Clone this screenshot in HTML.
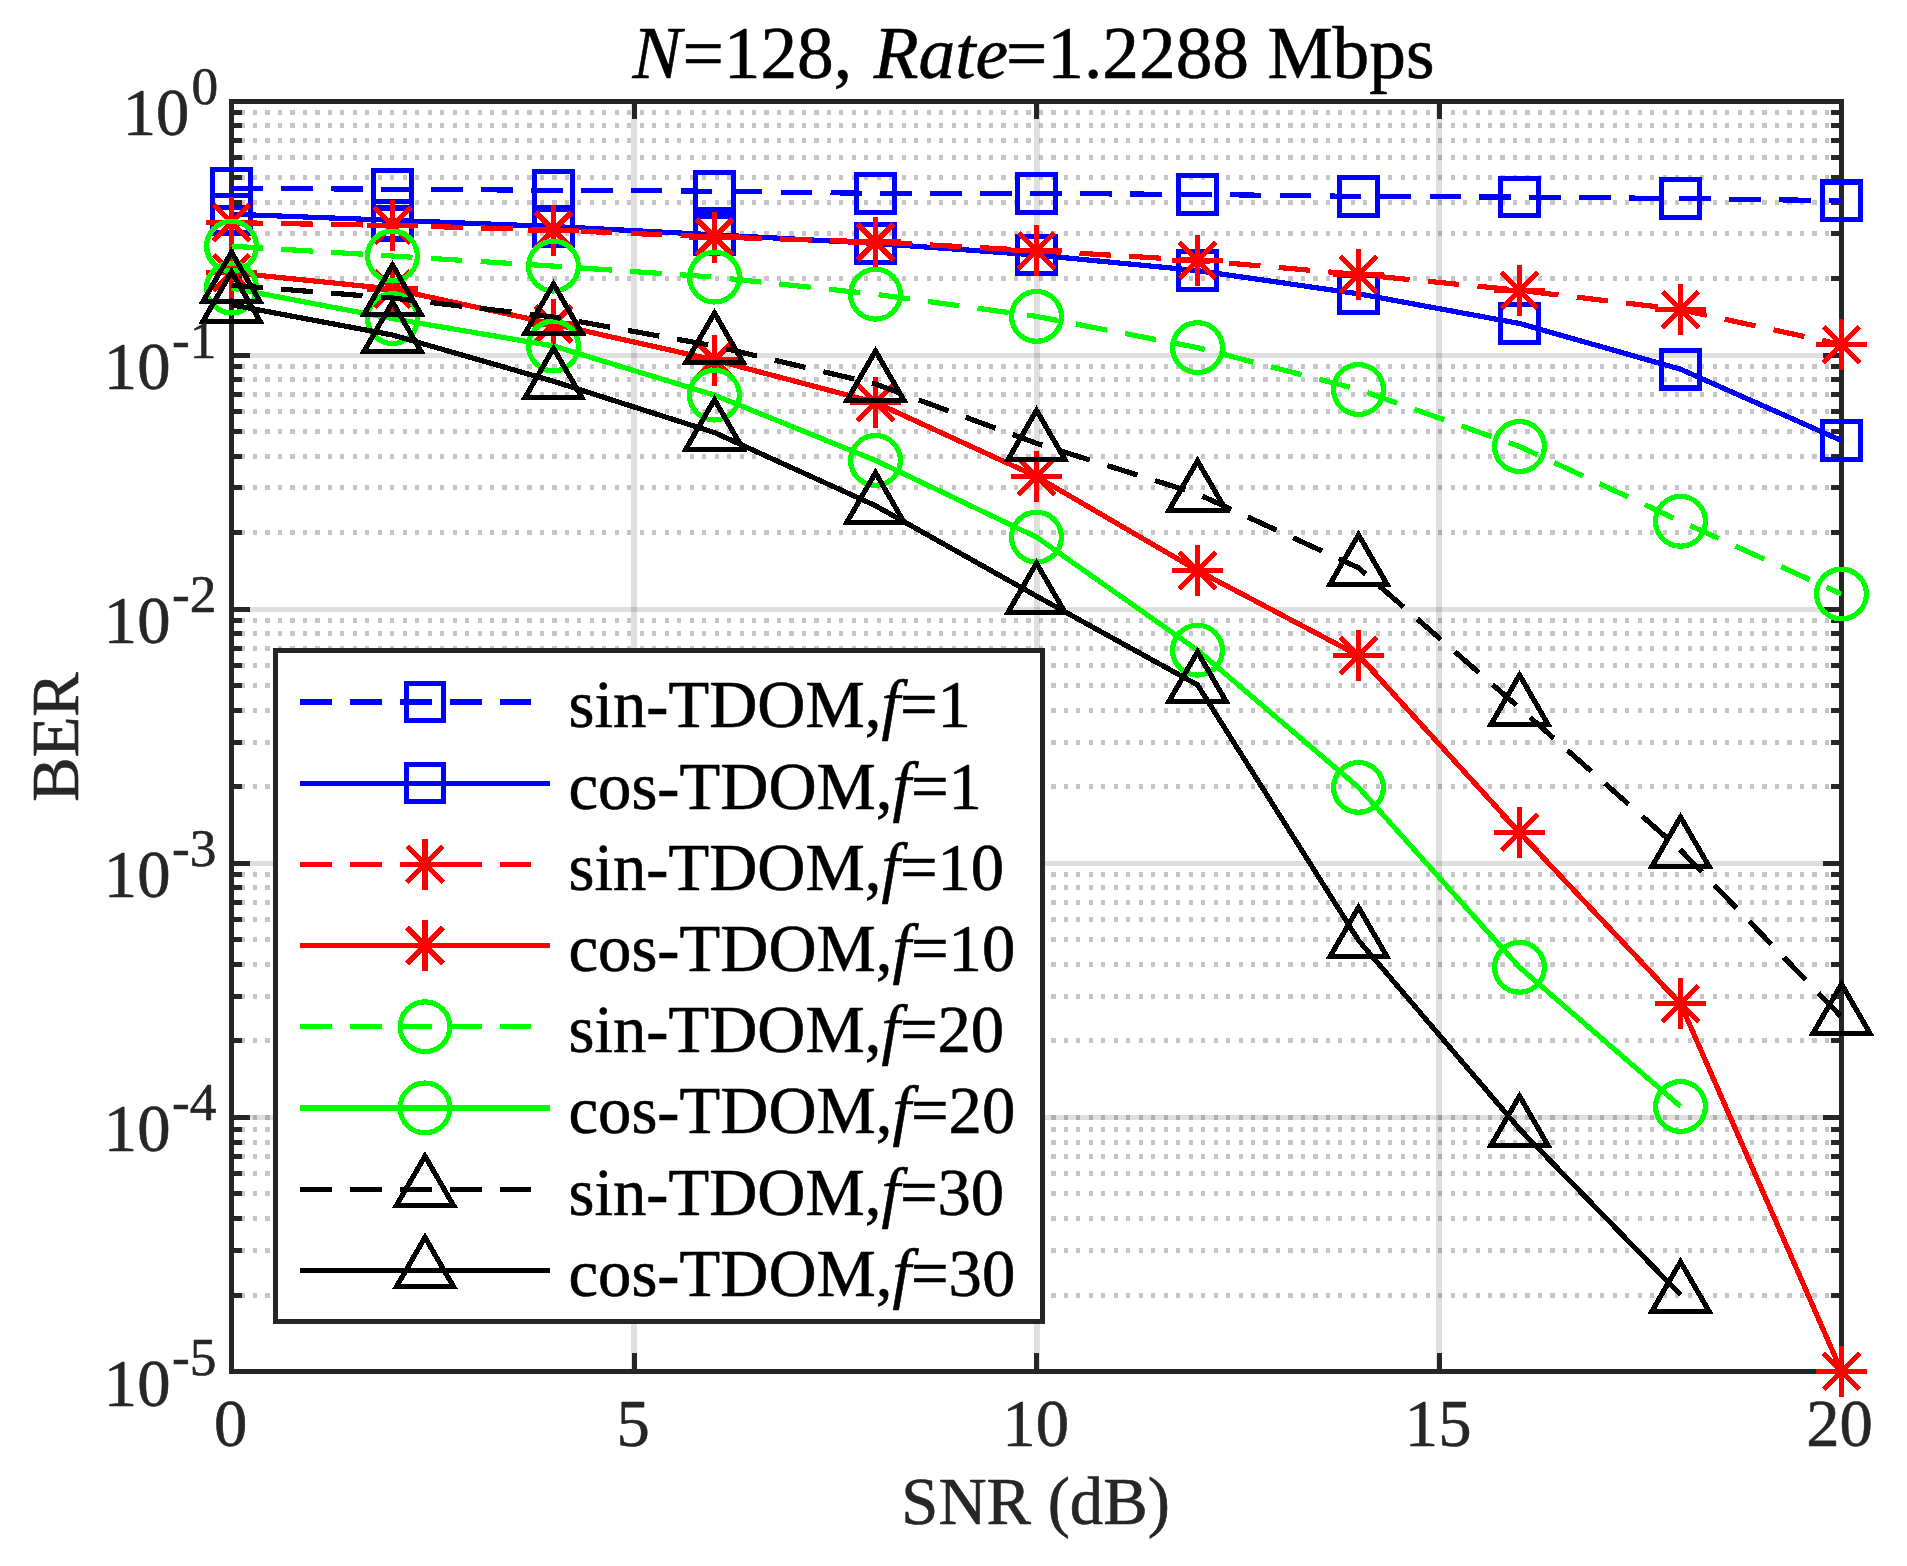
<!DOCTYPE html>
<html lang="en"><head><meta charset="utf-8"><title>BER vs SNR</title>
<style>html,body{margin:0;padding:0;background:#fff}svg{display:block}text{font-family:"Liberation Serif", serif;stroke-width:0.6px;stroke-linejoin:round}</style></head><body>
<svg width="1907" height="1566" viewBox="0 0 1907 1566" shape-rendering="crispEdges">
<rect x="0" y="0" width="1907" height="1566" fill="#ffffff"/>
<defs><clipPath id="ax"><rect x="231.5" y="101" width="1610" height="1270.5"/></clipPath></defs>
<g id="minorgrid" stroke="#1a1a1a" stroke-opacity="0.25" stroke-width="5" stroke-dasharray="4.17 8.305" fill="none">
<line x1="240.5" y1="278.61" x2="1841.5" y2="278.61"/>
<line x1="240.5" y1="233.86" x2="1841.5" y2="233.86"/>
<line x1="240.5" y1="202.12" x2="1841.5" y2="202.12"/>
<line x1="240.5" y1="177.49" x2="1841.5" y2="177.49"/>
<line x1="240.5" y1="157.37" x2="1841.5" y2="157.37"/>
<line x1="240.5" y1="140.36" x2="1841.5" y2="140.36"/>
<line x1="240.5" y1="125.62" x2="1841.5" y2="125.62"/>
<line x1="240.5" y1="112.63" x2="1841.5" y2="112.63"/>
<line x1="240.5" y1="532.71" x2="1841.5" y2="532.71"/>
<line x1="240.5" y1="487.96" x2="1841.5" y2="487.96"/>
<line x1="240.5" y1="456.22" x2="1841.5" y2="456.22"/>
<line x1="240.5" y1="431.59" x2="1841.5" y2="431.59"/>
<line x1="240.5" y1="411.47" x2="1841.5" y2="411.47"/>
<line x1="240.5" y1="394.46" x2="1841.5" y2="394.46"/>
<line x1="240.5" y1="379.72" x2="1841.5" y2="379.72"/>
<line x1="240.5" y1="366.73" x2="1841.5" y2="366.73"/>
<line x1="240.5" y1="786.81" x2="1841.5" y2="786.81"/>
<line x1="240.5" y1="742.06" x2="1841.5" y2="742.06"/>
<line x1="240.5" y1="710.32" x2="1841.5" y2="710.32"/>
<line x1="240.5" y1="685.69" x2="1841.5" y2="685.69"/>
<line x1="240.5" y1="665.57" x2="1841.5" y2="665.57"/>
<line x1="240.5" y1="648.56" x2="1841.5" y2="648.56"/>
<line x1="240.5" y1="633.82" x2="1841.5" y2="633.82"/>
<line x1="240.5" y1="620.83" x2="1841.5" y2="620.83"/>
<line x1="240.5" y1="1040.91" x2="1841.5" y2="1040.91"/>
<line x1="240.5" y1="996.16" x2="1841.5" y2="996.16"/>
<line x1="240.5" y1="964.42" x2="1841.5" y2="964.42"/>
<line x1="240.5" y1="939.79" x2="1841.5" y2="939.79"/>
<line x1="240.5" y1="919.67" x2="1841.5" y2="919.67"/>
<line x1="240.5" y1="902.66" x2="1841.5" y2="902.66"/>
<line x1="240.5" y1="887.92" x2="1841.5" y2="887.92"/>
<line x1="240.5" y1="874.93" x2="1841.5" y2="874.93"/>
<line x1="240.5" y1="1295.01" x2="1841.5" y2="1295.01"/>
<line x1="240.5" y1="1250.26" x2="1841.5" y2="1250.26"/>
<line x1="240.5" y1="1218.52" x2="1841.5" y2="1218.52"/>
<line x1="240.5" y1="1193.89" x2="1841.5" y2="1193.89"/>
<line x1="240.5" y1="1173.77" x2="1841.5" y2="1173.77"/>
<line x1="240.5" y1="1156.76" x2="1841.5" y2="1156.76"/>
<line x1="240.5" y1="1142.02" x2="1841.5" y2="1142.02"/>
<line x1="240.5" y1="1129.03" x2="1841.5" y2="1129.03"/>
<line x1="240.5" y1="1117.4" x2="1841.5" y2="1117.4"/>
</g>
<g id="majorgrid" stroke="#262626" stroke-opacity="0.15" stroke-width="5" fill="none">
<line x1="231.5" y1="355.1" x2="1841.5" y2="355.1"/>
<line x1="231.5" y1="609.2" x2="1841.5" y2="609.2"/>
<line x1="231.5" y1="863.3" x2="1841.5" y2="863.3"/>
<line x1="231.5" y1="1117.4" x2="1841.5" y2="1117.4"/>
<line x1="634" y1="101" x2="634" y2="1371.5" stroke-width="6"/>
<line x1="1036.5" y1="101" x2="1036.5" y2="1371.5" stroke-width="6"/>
<line x1="1439" y1="101" x2="1439" y2="1371.5" stroke-width="6"/>
</g>
<g id="axes" stroke="#262626" stroke-width="5" fill="none">
<rect x="231.5" y="101" width="1610" height="1270.5"/>
<path d="M634 1371.5V1353.3M634 101V119.2M1036.5 1371.5V1353.3M1036.5 101V119.2M1439 1371.5V1353.3M1439 101V119.2M231.5 355.1H249.7M1841.5 355.1H1823.3M231.5 609.2H249.7M1841.5 609.2H1823.3M231.5 863.3H249.7M1841.5 863.3H1823.3M231.5 1117.4H249.7M1841.5 1117.4H1823.3M231.5 278.61H241.65M1841.5 278.61H1831.35M231.5 233.86H241.65M1841.5 233.86H1831.35M231.5 202.12H241.65M1841.5 202.12H1831.35M231.5 177.49H241.65M1841.5 177.49H1831.35M231.5 157.37H241.65M1841.5 157.37H1831.35M231.5 140.36H241.65M1841.5 140.36H1831.35M231.5 125.62H241.65M1841.5 125.62H1831.35M231.5 112.63H241.65M1841.5 112.63H1831.35M231.5 532.71H241.65M1841.5 532.71H1831.35M231.5 487.96H241.65M1841.5 487.96H1831.35M231.5 456.22H241.65M1841.5 456.22H1831.35M231.5 431.59H241.65M1841.5 431.59H1831.35M231.5 411.47H241.65M1841.5 411.47H1831.35M231.5 394.46H241.65M1841.5 394.46H1831.35M231.5 379.72H241.65M1841.5 379.72H1831.35M231.5 366.73H241.65M1841.5 366.73H1831.35M231.5 786.81H241.65M1841.5 786.81H1831.35M231.5 742.06H241.65M1841.5 742.06H1831.35M231.5 710.32H241.65M1841.5 710.32H1831.35M231.5 685.69H241.65M1841.5 685.69H1831.35M231.5 665.57H241.65M1841.5 665.57H1831.35M231.5 648.56H241.65M1841.5 648.56H1831.35M231.5 633.82H241.65M1841.5 633.82H1831.35M231.5 620.83H241.65M1841.5 620.83H1831.35M231.5 1040.91H241.65M1841.5 1040.91H1831.35M231.5 996.16H241.65M1841.5 996.16H1831.35M231.5 964.42H241.65M1841.5 964.42H1831.35M231.5 939.79H241.65M1841.5 939.79H1831.35M231.5 919.67H241.65M1841.5 919.67H1831.35M231.5 902.66H241.65M1841.5 902.66H1831.35M231.5 887.92H241.65M1841.5 887.92H1831.35M231.5 874.93H241.65M1841.5 874.93H1831.35M231.5 1295.01H241.65M1841.5 1295.01H1831.35M231.5 1250.26H241.65M1841.5 1250.26H1831.35M231.5 1218.52H241.65M1841.5 1218.52H1831.35M231.5 1193.89H241.65M1841.5 1193.89H1831.35M231.5 1173.77H241.65M1841.5 1173.77H1831.35M231.5 1156.76H241.65M1841.5 1156.76H1831.35M231.5 1142.02H241.65M1841.5 1142.02H1831.35M231.5 1129.03H241.65M1841.5 1129.03H1831.35"/>
</g>
<g id="s-bd">
<polyline clip-path="url(#ax)" points="231.5,188.4 392.5,189.2 553.5,190.3 714.5,191.2 875.5,193.4 1036.5,193.5 1197.5,194.4 1358.5,196.4 1519.5,197.1 1680.5,198.5 1841.5,200.7" fill="none" stroke="#0000ff" stroke-width="5.2" stroke-linejoin="round" stroke-dasharray="31.6 18.32"/>
<rect x="212.75" y="169.65" width="37.5" height="37.5" fill="none" stroke="#0000ff" stroke-width="5.2"/>
<rect x="373.75" y="170.45" width="37.5" height="37.5" fill="none" stroke="#0000ff" stroke-width="5.2"/>
<rect x="534.75" y="171.55" width="37.5" height="37.5" fill="none" stroke="#0000ff" stroke-width="5.2"/>
<rect x="695.75" y="172.45" width="37.5" height="37.5" fill="none" stroke="#0000ff" stroke-width="5.2"/>
<rect x="856.75" y="174.65" width="37.5" height="37.5" fill="none" stroke="#0000ff" stroke-width="5.2"/>
<rect x="1017.75" y="174.75" width="37.5" height="37.5" fill="none" stroke="#0000ff" stroke-width="5.2"/>
<rect x="1178.75" y="175.65" width="37.5" height="37.5" fill="none" stroke="#0000ff" stroke-width="5.2"/>
<rect x="1339.75" y="177.65" width="37.5" height="37.5" fill="none" stroke="#0000ff" stroke-width="5.2"/>
<rect x="1500.75" y="178.35" width="37.5" height="37.5" fill="none" stroke="#0000ff" stroke-width="5.2"/>
<rect x="1661.75" y="179.75" width="37.5" height="37.5" fill="none" stroke="#0000ff" stroke-width="5.2"/>
<rect x="1822.75" y="181.95" width="37.5" height="37.5" fill="none" stroke="#0000ff" stroke-width="5.2"/>
</g>
<g id="s-bs">
<polyline clip-path="url(#ax)" points="231.5,214.2 392.5,220.3 553.5,226.5 714.5,234.8 875.5,243.4 1036.5,255 1197.5,270.6 1358.5,293.8 1519.5,323.5 1680.5,369.2 1841.5,440.6" fill="none" stroke="#0000ff" stroke-width="5.2" stroke-linejoin="round"/>
<rect x="212.75" y="195.45" width="37.5" height="37.5" fill="none" stroke="#0000ff" stroke-width="5.2"/>
<rect x="373.75" y="201.55" width="37.5" height="37.5" fill="none" stroke="#0000ff" stroke-width="5.2"/>
<rect x="534.75" y="207.75" width="37.5" height="37.5" fill="none" stroke="#0000ff" stroke-width="5.2"/>
<rect x="695.75" y="216.05" width="37.5" height="37.5" fill="none" stroke="#0000ff" stroke-width="5.2"/>
<rect x="856.75" y="224.65" width="37.5" height="37.5" fill="none" stroke="#0000ff" stroke-width="5.2"/>
<rect x="1017.75" y="236.25" width="37.5" height="37.5" fill="none" stroke="#0000ff" stroke-width="5.2"/>
<rect x="1178.75" y="251.85" width="37.5" height="37.5" fill="none" stroke="#0000ff" stroke-width="5.2"/>
<rect x="1339.75" y="275.05" width="37.5" height="37.5" fill="none" stroke="#0000ff" stroke-width="5.2"/>
<rect x="1500.75" y="304.75" width="37.5" height="37.5" fill="none" stroke="#0000ff" stroke-width="5.2"/>
<rect x="1661.75" y="350.45" width="37.5" height="37.5" fill="none" stroke="#0000ff" stroke-width="5.2"/>
<rect x="1822.75" y="421.85" width="37.5" height="37.5" fill="none" stroke="#0000ff" stroke-width="5.2"/>
</g>
<g id="s-rd">
<polyline clip-path="url(#ax)" points="231.5,222.8 392.5,225.4 553.5,230.1 714.5,237 875.5,242 1036.5,250.7 1197.5,260.4 1358.5,274.5 1519.5,290.3 1680.5,309.6 1841.5,344.6" fill="none" stroke="#ff0000" stroke-width="5.2" stroke-linejoin="round" stroke-dasharray="31.6 18.32"/>
<path d="M206 222.8H257M231.5 197.3V248.3M213.47 204.77L249.53 240.83M213.47 240.83L249.53 204.77" fill="none" stroke="#ff0000" stroke-width="5.2"/>
<path d="M367 225.4H418M392.5 199.9V250.9M374.47 207.37L410.53 243.43M374.47 243.43L410.53 207.37" fill="none" stroke="#ff0000" stroke-width="5.2"/>
<path d="M528 230.1H579M553.5 204.6V255.6M535.47 212.07L571.53 248.13M535.47 248.13L571.53 212.07" fill="none" stroke="#ff0000" stroke-width="5.2"/>
<path d="M689 237H740M714.5 211.5V262.5M696.47 218.97L732.53 255.03M696.47 255.03L732.53 218.97" fill="none" stroke="#ff0000" stroke-width="5.2"/>
<path d="M850 242H901M875.5 216.5V267.5M857.47 223.97L893.53 260.03M857.47 260.03L893.53 223.97" fill="none" stroke="#ff0000" stroke-width="5.2"/>
<path d="M1011 250.7H1062M1036.5 225.2V276.2M1018.47 232.67L1054.53 268.73M1018.47 268.73L1054.53 232.67" fill="none" stroke="#ff0000" stroke-width="5.2"/>
<path d="M1172 260.4H1223M1197.5 234.9V285.9M1179.47 242.37L1215.53 278.43M1179.47 278.43L1215.53 242.37" fill="none" stroke="#ff0000" stroke-width="5.2"/>
<path d="M1333 274.5H1384M1358.5 249V300M1340.47 256.47L1376.53 292.53M1340.47 292.53L1376.53 256.47" fill="none" stroke="#ff0000" stroke-width="5.2"/>
<path d="M1494 290.3H1545M1519.5 264.8V315.8M1501.47 272.27L1537.53 308.33M1501.47 308.33L1537.53 272.27" fill="none" stroke="#ff0000" stroke-width="5.2"/>
<path d="M1655 309.6H1706M1680.5 284.1V335.1M1662.47 291.57L1698.53 327.63M1662.47 327.63L1698.53 291.57" fill="none" stroke="#ff0000" stroke-width="5.2"/>
<path d="M1816 344.6H1867M1841.5 319.1V370.1M1823.47 326.57L1859.53 362.63M1823.47 362.63L1859.53 326.57" fill="none" stroke="#ff0000" stroke-width="5.2"/>
</g>
<g id="s-rs">
<polyline clip-path="url(#ax)" points="231.5,272.6 392.5,289 553.5,324 714.5,360 875.5,402.5 1036.5,476.5 1197.5,570.5 1358.5,655.5 1519.5,832.4 1680.5,1003.6 1841.5,1371.3" fill="none" stroke="#ff0000" stroke-width="5.2" stroke-linejoin="round"/>
<path d="M206 272.6H257M231.5 247.1V298.1M213.47 254.57L249.53 290.63M213.47 290.63L249.53 254.57" fill="none" stroke="#ff0000" stroke-width="5.2"/>
<path d="M367 289H418M392.5 263.5V314.5M374.47 270.97L410.53 307.03M374.47 307.03L410.53 270.97" fill="none" stroke="#ff0000" stroke-width="5.2"/>
<path d="M528 324H579M553.5 298.5V349.5M535.47 305.97L571.53 342.03M535.47 342.03L571.53 305.97" fill="none" stroke="#ff0000" stroke-width="5.2"/>
<path d="M689 360H740M714.5 334.5V385.5M696.47 341.97L732.53 378.03M696.47 378.03L732.53 341.97" fill="none" stroke="#ff0000" stroke-width="5.2"/>
<path d="M850 402.5H901M875.5 377V428M857.47 384.47L893.53 420.53M857.47 420.53L893.53 384.47" fill="none" stroke="#ff0000" stroke-width="5.2"/>
<path d="M1011 476.5H1062M1036.5 451V502M1018.47 458.47L1054.53 494.53M1018.47 494.53L1054.53 458.47" fill="none" stroke="#ff0000" stroke-width="5.2"/>
<path d="M1172 570.5H1223M1197.5 545V596M1179.47 552.47L1215.53 588.53M1179.47 588.53L1215.53 552.47" fill="none" stroke="#ff0000" stroke-width="5.2"/>
<path d="M1333 655.5H1384M1358.5 630V681M1340.47 637.47L1376.53 673.53M1340.47 673.53L1376.53 637.47" fill="none" stroke="#ff0000" stroke-width="5.2"/>
<path d="M1494 832.4H1545M1519.5 806.9V857.9M1501.47 814.37L1537.53 850.43M1501.47 850.43L1537.53 814.37" fill="none" stroke="#ff0000" stroke-width="5.2"/>
<path d="M1655 1003.6H1706M1680.5 978.1V1029.1M1662.47 985.57L1698.53 1021.63M1662.47 1021.63L1698.53 985.57" fill="none" stroke="#ff0000" stroke-width="5.2"/>
<path d="M1816 1371.3H1867M1841.5 1345.8V1396.8M1823.47 1353.27L1859.53 1389.33M1823.47 1389.33L1859.53 1353.27" fill="none" stroke="#ff0000" stroke-width="5.2"/>
</g>
<g id="s-gd">
<polyline clip-path="url(#ax)" points="231.5,246.2 392.5,256 553.5,266.1 714.5,277.1 875.5,294.2 1036.5,316.4 1197.5,347.6 1358.5,389.5 1519.5,446.5 1680.5,521.3 1841.5,594" fill="none" stroke="#00ff00" stroke-width="5.2" stroke-linejoin="round" stroke-dasharray="31.6 18.32"/>
<circle cx="231.5" cy="246.2" r="24.9" fill="none" stroke="#00ff00" stroke-width="5.2"/>
<circle cx="392.5" cy="256" r="24.9" fill="none" stroke="#00ff00" stroke-width="5.2"/>
<circle cx="553.5" cy="266.1" r="24.9" fill="none" stroke="#00ff00" stroke-width="5.2"/>
<circle cx="714.5" cy="277.1" r="24.9" fill="none" stroke="#00ff00" stroke-width="5.2"/>
<circle cx="875.5" cy="294.2" r="24.9" fill="none" stroke="#00ff00" stroke-width="5.2"/>
<circle cx="1036.5" cy="316.4" r="24.9" fill="none" stroke="#00ff00" stroke-width="5.2"/>
<circle cx="1197.5" cy="347.6" r="24.9" fill="none" stroke="#00ff00" stroke-width="5.2"/>
<circle cx="1358.5" cy="389.5" r="24.9" fill="none" stroke="#00ff00" stroke-width="5.2"/>
<circle cx="1519.5" cy="446.5" r="24.9" fill="none" stroke="#00ff00" stroke-width="5.2"/>
<circle cx="1680.5" cy="521.3" r="24.9" fill="none" stroke="#00ff00" stroke-width="5.2"/>
<circle cx="1841.5" cy="594" r="24.9" fill="none" stroke="#00ff00" stroke-width="5.2"/>
</g>
<g id="s-gs">
<polyline clip-path="url(#ax)" points="231.5,288 392.5,318.6 553.5,346 714.5,395.1 875.5,460.4 1036.5,537.1 1197.5,650.2 1358.5,787.4 1519.5,967.3 1680.5,1106.5" fill="none" stroke="#00ff00" stroke-width="5.2" stroke-linejoin="round"/>
<circle cx="231.5" cy="288" r="24.9" fill="none" stroke="#00ff00" stroke-width="5.2"/>
<circle cx="392.5" cy="318.6" r="24.9" fill="none" stroke="#00ff00" stroke-width="5.2"/>
<circle cx="553.5" cy="346" r="24.9" fill="none" stroke="#00ff00" stroke-width="5.2"/>
<circle cx="714.5" cy="395.1" r="24.9" fill="none" stroke="#00ff00" stroke-width="5.2"/>
<circle cx="875.5" cy="460.4" r="24.9" fill="none" stroke="#00ff00" stroke-width="5.2"/>
<circle cx="1036.5" cy="537.1" r="24.9" fill="none" stroke="#00ff00" stroke-width="5.2"/>
<circle cx="1197.5" cy="650.2" r="24.9" fill="none" stroke="#00ff00" stroke-width="5.2"/>
<circle cx="1358.5" cy="787.4" r="24.9" fill="none" stroke="#00ff00" stroke-width="5.2"/>
<circle cx="1519.5" cy="967.3" r="24.9" fill="none" stroke="#00ff00" stroke-width="5.2"/>
<circle cx="1680.5" cy="1106.5" r="24.9" fill="none" stroke="#00ff00" stroke-width="5.2"/>
</g>
<g id="s-kd">
<polyline clip-path="url(#ax)" points="231.5,285.2 392.5,298 553.5,317 714.5,346 875.5,384 1036.5,443.3 1197.5,493.9 1358.5,567.8 1519.5,708 1680.5,850 1841.5,1017" fill="none" stroke="#000000" stroke-width="5.2" stroke-linejoin="round" stroke-dasharray="31.6 18.32"/>
<polygon points="231.5,252.2 260.08,301.7 202.92,301.7" stroke-linejoin="miter" stroke-miterlimit="10" fill="none" stroke="#000000" stroke-width="5.2"/>
<polygon points="392.5,265 421.08,314.5 363.92,314.5" stroke-linejoin="miter" stroke-miterlimit="10" fill="none" stroke="#000000" stroke-width="5.2"/>
<polygon points="553.5,284 582.08,333.5 524.92,333.5" stroke-linejoin="miter" stroke-miterlimit="10" fill="none" stroke="#000000" stroke-width="5.2"/>
<polygon points="714.5,313 743.08,362.5 685.92,362.5" stroke-linejoin="miter" stroke-miterlimit="10" fill="none" stroke="#000000" stroke-width="5.2"/>
<polygon points="875.5,351 904.08,400.5 846.92,400.5" stroke-linejoin="miter" stroke-miterlimit="10" fill="none" stroke="#000000" stroke-width="5.2"/>
<polygon points="1036.5,410.3 1065.08,459.8 1007.92,459.8" stroke-linejoin="miter" stroke-miterlimit="10" fill="none" stroke="#000000" stroke-width="5.2"/>
<polygon points="1197.5,460.9 1226.08,510.4 1168.92,510.4" stroke-linejoin="miter" stroke-miterlimit="10" fill="none" stroke="#000000" stroke-width="5.2"/>
<polygon points="1358.5,534.8 1387.08,584.3 1329.92,584.3" stroke-linejoin="miter" stroke-miterlimit="10" fill="none" stroke="#000000" stroke-width="5.2"/>
<polygon points="1519.5,675 1548.08,724.5 1490.92,724.5" stroke-linejoin="miter" stroke-miterlimit="10" fill="none" stroke="#000000" stroke-width="5.2"/>
<polygon points="1680.5,817 1709.08,866.5 1651.92,866.5" stroke-linejoin="miter" stroke-miterlimit="10" fill="none" stroke="#000000" stroke-width="5.2"/>
<polygon points="1841.5,984 1870.08,1033.5 1812.92,1033.5" stroke-linejoin="miter" stroke-miterlimit="10" fill="none" stroke="#000000" stroke-width="5.2"/>
</g>
<g id="s-ks">
<polyline clip-path="url(#ax)" points="231.5,304.8 392.5,335 553.5,381.3 714.5,432.6 875.5,505.7 1036.5,596.1 1197.5,684.9 1358.5,940.3 1519.5,1129 1680.5,1294.8" fill="none" stroke="#000000" stroke-width="5.2" stroke-linejoin="round"/>
<polygon points="231.5,271.8 260.08,321.3 202.92,321.3" stroke-linejoin="miter" stroke-miterlimit="10" fill="none" stroke="#000000" stroke-width="5.2"/>
<polygon points="392.5,302 421.08,351.5 363.92,351.5" stroke-linejoin="miter" stroke-miterlimit="10" fill="none" stroke="#000000" stroke-width="5.2"/>
<polygon points="553.5,348.3 582.08,397.8 524.92,397.8" stroke-linejoin="miter" stroke-miterlimit="10" fill="none" stroke="#000000" stroke-width="5.2"/>
<polygon points="714.5,399.6 743.08,449.1 685.92,449.1" stroke-linejoin="miter" stroke-miterlimit="10" fill="none" stroke="#000000" stroke-width="5.2"/>
<polygon points="875.5,472.7 904.08,522.2 846.92,522.2" stroke-linejoin="miter" stroke-miterlimit="10" fill="none" stroke="#000000" stroke-width="5.2"/>
<polygon points="1036.5,563.1 1065.08,612.6 1007.92,612.6" stroke-linejoin="miter" stroke-miterlimit="10" fill="none" stroke="#000000" stroke-width="5.2"/>
<polygon points="1197.5,651.9 1226.08,701.4 1168.92,701.4" stroke-linejoin="miter" stroke-miterlimit="10" fill="none" stroke="#000000" stroke-width="5.2"/>
<polygon points="1358.5,907.3 1387.08,956.8 1329.92,956.8" stroke-linejoin="miter" stroke-miterlimit="10" fill="none" stroke="#000000" stroke-width="5.2"/>
<polygon points="1519.5,1096 1548.08,1145.5 1490.92,1145.5" stroke-linejoin="miter" stroke-miterlimit="10" fill="none" stroke="#000000" stroke-width="5.2"/>
<polygon points="1680.5,1261.8 1709.08,1311.3 1651.92,1311.3" stroke-linejoin="miter" stroke-miterlimit="10" fill="none" stroke="#000000" stroke-width="5.2"/>
</g>
<g id="legend">
<rect x="275.5" y="650.5" width="767" height="671" fill="#ffffff" stroke="#262626" stroke-width="5"/>
<line x1="300.2" y1="701.9" x2="549.9" y2="701.9" stroke="#0000ff" stroke-width="5.2" stroke-dasharray="31.6 18.32"/>
<rect x="406.25" y="683.15" width="37.5" height="37.5" fill="none" stroke="#0000ff" stroke-width="5.2"/>
<text x="568.5" y="727.3" font-size="66.67" fill="#000000" stroke="#000000">sin-TDOM,<tspan font-style="italic">f</tspan>=1</text>
<line x1="300.2" y1="783.1" x2="549.9" y2="783.1" stroke="#0000ff" stroke-width="5.2"/>
<rect x="406.25" y="764.35" width="37.5" height="37.5" fill="none" stroke="#0000ff" stroke-width="5.2"/>
<text x="568.5" y="808.5" font-size="66.67" fill="#000000" stroke="#000000">cos-TDOM,<tspan font-style="italic">f</tspan>=1</text>
<line x1="300.2" y1="864.3" x2="549.9" y2="864.3" stroke="#ff0000" stroke-width="5.2" stroke-dasharray="31.6 18.32"/>
<path d="M399.5 864.3H450.5M425 838.8V889.8M406.97 846.27L443.03 882.33M406.97 882.33L443.03 846.27" fill="none" stroke="#ff0000" stroke-width="5.2"/>
<text x="568.5" y="889.7" font-size="66.67" fill="#000000" stroke="#000000">sin-TDOM,<tspan font-style="italic">f</tspan>=10</text>
<line x1="300.2" y1="945.5" x2="549.9" y2="945.5" stroke="#ff0000" stroke-width="5.2"/>
<path d="M399.5 945.5H450.5M425 920V971M406.97 927.47L443.03 963.53M406.97 963.53L443.03 927.47" fill="none" stroke="#ff0000" stroke-width="5.2"/>
<text x="568.5" y="970.9" font-size="66.67" fill="#000000" stroke="#000000">cos-TDOM,<tspan font-style="italic">f</tspan>=10</text>
<line x1="300.2" y1="1026.7" x2="549.9" y2="1026.7" stroke="#00ff00" stroke-width="5.2" stroke-dasharray="31.6 18.32"/>
<circle cx="425" cy="1026.7" r="24.9" fill="none" stroke="#00ff00" stroke-width="5.2"/>
<text x="568.5" y="1052.1" font-size="66.67" fill="#000000" stroke="#000000">sin-TDOM,<tspan font-style="italic">f</tspan>=20</text>
<line x1="300.2" y1="1107.9" x2="549.9" y2="1107.9" stroke="#00ff00" stroke-width="5.2"/>
<circle cx="425" cy="1107.9" r="24.9" fill="none" stroke="#00ff00" stroke-width="5.2"/>
<text x="568.5" y="1133.3" font-size="66.67" fill="#000000" stroke="#000000">cos-TDOM,<tspan font-style="italic">f</tspan>=20</text>
<line x1="300.2" y1="1189.1" x2="549.9" y2="1189.1" stroke="#000000" stroke-width="5.2" stroke-dasharray="31.6 18.32"/>
<polygon points="425,1156.1 453.58,1205.6 396.42,1205.6" stroke-linejoin="miter" stroke-miterlimit="10" fill="none" stroke="#000000" stroke-width="5.2"/>
<text x="568.5" y="1214.5" font-size="66.67" fill="#000000" stroke="#000000">sin-TDOM,<tspan font-style="italic">f</tspan>=30</text>
<line x1="300.2" y1="1270.3" x2="549.9" y2="1270.3" stroke="#000000" stroke-width="5.2"/>
<polygon points="425,1237.3 453.58,1286.8 396.42,1286.8" stroke-linejoin="miter" stroke-miterlimit="10" fill="none" stroke="#000000" stroke-width="5.2"/>
<text x="568.5" y="1295.7" font-size="66.67" fill="#000000" stroke="#000000">cos-TDOM,<tspan font-style="italic">f</tspan>=30</text>
</g>
<g id="xticklabels" font-size="66.67" fill="#262626" stroke="#262626" text-anchor="middle">
<text x="230.7" y="1445.5">0</text>
<text x="633.2" y="1445.5">5</text>
<text x="1035.7" y="1445.5">10</text>
<text x="1438.2" y="1445.5">15</text>
<text x="1839.5" y="1445.5">20</text>
</g>
<g id="yticklabels" fill="#262626" stroke="#262626">
<text x="189.3" y="135" font-size="66.67" text-anchor="end">10</text>
<text x="218.2" y="104" font-size="53.33" text-anchor="end">0</text>
<text x="170.5" y="389.1" font-size="66.67" text-anchor="end">10</text>
<text x="216.5" y="358.1" font-size="53.33" text-anchor="end">-1</text>
<text x="170.5" y="643.2" font-size="66.67" text-anchor="end">10</text>
<text x="216.5" y="612.2" font-size="53.33" text-anchor="end">-2</text>
<text x="170.5" y="897.3" font-size="66.67" text-anchor="end">10</text>
<text x="216.5" y="866.3" font-size="53.33" text-anchor="end">-3</text>
<text x="170.5" y="1151.4" font-size="66.67" text-anchor="end">10</text>
<text x="216.5" y="1120.4" font-size="53.33" text-anchor="end">-4</text>
<text x="170.5" y="1405.5" font-size="66.67" text-anchor="end">10</text>
<text x="216.5" y="1374.5" font-size="53.33" text-anchor="end">-5</text>
</g>
<text x="1035.6" y="1524.2" font-size="66.67" fill="#262626" stroke="#262626" text-anchor="middle">SNR (dB)</text>
<text transform="translate(78 737) rotate(-90)" font-size="66.67" fill="#262626" stroke="#262626" text-anchor="middle">BER</text>
<text y="77.7" font-size="73.33" fill="#000000" stroke="#000000"><tspan x="632.5" font-style="italic">N</tspan><tspan x="682.4">=128, </tspan><tspan x="873.7" font-style="italic">Rate</tspan><tspan x="1006">=1.2288 </tspan><tspan x="1267.4">Mbps</tspan></text>
</svg></body></html>
